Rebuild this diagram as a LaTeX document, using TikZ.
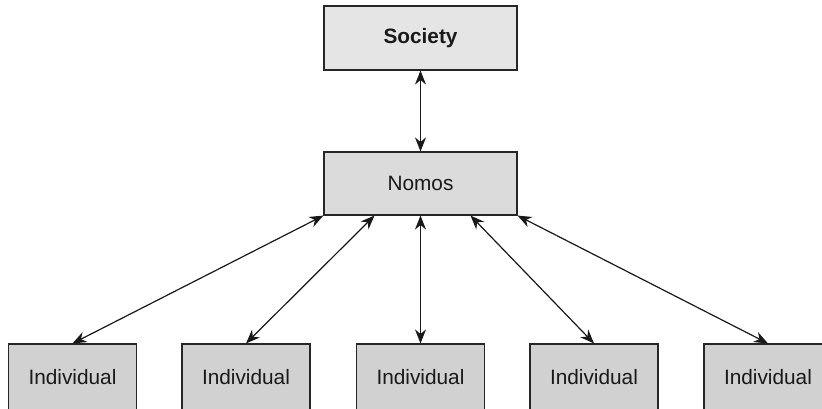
\documentclass[tikz,border=0pt]{standalone}
\usepackage{fontspec}
\setmainfont{Liberation Sans}
\usetikzlibrary{arrows.meta}
\tikzset{
    box/.style={rectangle, draw=black!85, line width=1.1pt, inner sep=0pt, text=black!90,
        minimum width=193pt, minimum height=64pt, font=\fontsize{20.8}{25}\selectfont},
    indiv/.style={box, fill=black!18, minimum width=128pt, minimum height=66pt},
    link/.style={line width=1.2pt, black!90,
        {Stealth[length=14pt,width=11pt,inset=4.5pt]}-{Stealth[length=14pt,width=11pt,inset=4.5pt]}}
}

\begin{document}
\begin{tikzpicture}[x=1pt, y=-1pt]
    \useasboundingbox (0,0) rectangle (822,408);
    \clip (0,0) rectangle (822,408);
    \fill[white] (0,0) rectangle (822,408);

    \node (society) at (420.5, 38) [box, fill=black!10] {\bfseries Society};
    \node (nomos) at (420.5, 183.5) [box, fill=black!14, minimum height=63pt] {Nomos};

    \node (i1) at (72.5, 377) [indiv] {Individual};
    \node (i2) at (246, 377) [indiv] {Individual};
    \node (i3) at (420.5, 377) [indiv] {Individual};
    \node (i4) at (594, 377) [indiv] {Individual};
    \node (i5) at (768, 377) [indiv] {Individual};

    \draw (society) edge [link] (nomos);
    \draw (nomos.south west) edge [link] (i1.north);
    \draw ([xshift=-46pt]nomos.south) edge [link] (i2.north);
    \draw (nomos) edge [link] (i3);
    \draw ([xshift=50pt]nomos.south) edge [link] (i4.north);
    \draw (nomos.south east) edge [link] (i5.north);
\end{tikzpicture}
\end{document}
